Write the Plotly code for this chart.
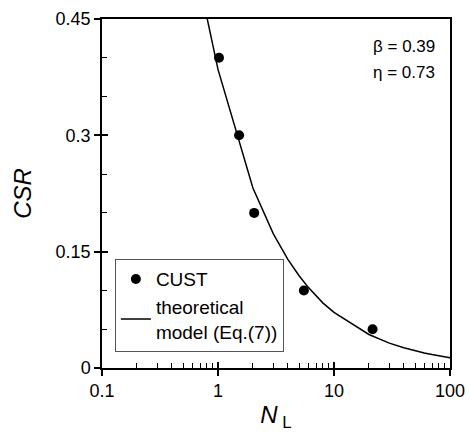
import plotly.graph_objects as go

# Measured data (CUST)
cust_N = [1.02, 1.52, 2.05, 5.5, 21.5]
cust_CSR = [0.40, 0.30, 0.20, 0.10, 0.05]

# Theoretical model curve
model_N = [0.8, 1, 2, 3, 4, 5, 6, 7, 8, 9, 10, 20, 30, 40, 50, 60, 70, 80, 90, 100]
model_CSR = [0.453, 0.385, 0.232, 0.173, 0.140, 0.119, 0.104, 0.093, 0.084, 0.0775,
             0.0717, 0.0432, 0.0321, 0.0261, 0.0221, 0.0194, 0.0173, 0.0157, 0.0144, 0.0133]

y_ticks = [0, 0.15, 0.3, 0.45]
y_ticktext = ["0", "0.15", "0.3", "0.45"]
y_minor = [0.05, 0.1, 0.2, 0.25, 0.35, 0.4]
x_ticks = [0.1, 1, 10, 100]
x_ticktext = ["0.1", "1", "10", "100"]
x_minor = [0.2, 0.3, 0.4, 0.5, 0.6, 0.7, 0.8, 0.9,
           2, 3, 4, 5, 6, 7, 8, 9,
           20, 30, 40, 50, 60, 70, 80, 90]

FONT = "Arial, Liberation Sans, sans-serif"

fig = go.Figure()
fig.add_trace(go.Scatter(x=cust_N, y=cust_CSR, mode="markers", name="CUST",
                         marker=dict(color="black", size=10)))
fig.add_trace(go.Scatter(x=model_N, y=model_CSR, mode="lines",
                         name="theoretical<br>model (Eq.(7))",
                         line=dict(color="black", width=1.5)))
# dummy trace for overlay axes (inner part of major ticks)
fig.add_trace(go.Scatter(x=[None], y=[None], xaxis="x2", yaxis="y2", showlegend=False))

fig.update_layout(
    width=470, height=432,
    margin=dict(l=102, r=20, t=19, b=64, autoexpand=False),
    paper_bgcolor="white", plot_bgcolor="white",
    font=dict(family=FONT, size=18, color="black"),
    showlegend=True,
    legend=dict(x=0.037, y=0.312, xanchor="left", yanchor="top",
                bgcolor="white", bordercolor="#555", borderwidth=1,
                font=dict(size=19), itemwidth=30, tracegroupgap=0),
    xaxis=dict(type="log", range=[-1, 2], tickvals=x_ticks, ticktext=x_ticktext,
               ticks="outside", ticklen=6, tickwidth=1.5, tickcolor="black",
               showline=True, linecolor="black", linewidth=1.5, mirror=True,
               showgrid=False, zeroline=False, automargin=False,
               minor=dict(ticks="inside", ticklen=5, tickwidth=1, tickcolor="black",
                          tickmode="array", tickvals=x_minor, showgrid=False),
               title=dict(text="<i>N</i><sub> L</sub>", font=dict(size=24), standoff=12)),
    yaxis=dict(range=[0, 0.45], tickvals=y_ticks, ticktext=y_ticktext,
               ticks="outside", ticklen=6, tickwidth=1.5, tickcolor="black",
               showline=True, linecolor="black", linewidth=1.5, mirror=True,
               showgrid=False, zeroline=False, automargin=False,
               minor=dict(ticks="inside", ticklen=5, tickwidth=1, tickcolor="black",
                          tickmode="array", tickvals=y_minor, showgrid=False),
               title=dict(text="<i>CSR</i>", font=dict(size=24), standoff=17)),
    xaxis2=dict(type="log", range=[-1, 2], overlaying="x", anchor="y2", side="bottom",
                tickvals=x_ticks, showticklabels=False, ticks="inside", ticklen=6,
                tickwidth=1.5, tickcolor="black", showline=False, showgrid=False,
                zeroline=False, automargin=False),
    yaxis2=dict(range=[0, 0.45], overlaying="y", anchor="x2", side="left",
                tickvals=y_ticks, showticklabels=False, ticks="inside", ticklen=6,
                tickwidth=1.5, tickcolor="black", showline=False, showgrid=False,
                zeroline=False, automargin=False),
    annotations=[
        dict(text="β = 0.39", xref="paper", yref="paper", x=0.963, y=0.92,
             xanchor="right", yanchor="middle", showarrow=False, font=dict(size=17)),
        dict(text="η = 0.73", xref="paper", yref="paper", x=0.963, y=0.848,
             xanchor="right", yanchor="middle", showarrow=False, font=dict(size=17)),
    ],
)

# remove the page's default body margin so the figure sits at the window's corner
fig.write_html("out.html", config={"displayModeBar": False},
               post_script="document.body.style.margin='0';document.body.style.overflow='hidden';")
